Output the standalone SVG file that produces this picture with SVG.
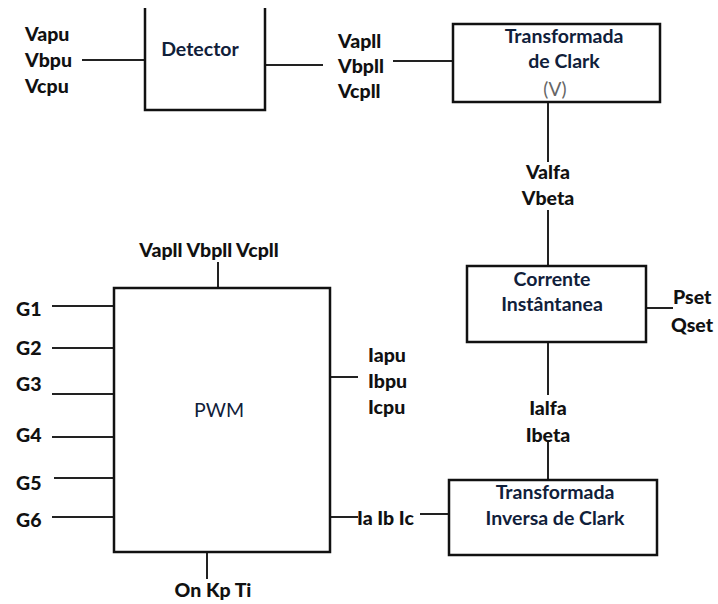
<svg xmlns="http://www.w3.org/2000/svg" width="718" height="604" viewBox="0 0 718 604">
<style>
.box{fill:#fff;stroke:#111;stroke-width:2.5}
.ln{stroke:#222;stroke-width:2;fill:none}
.lb{font-family:Lato,"Liberation Sans",sans-serif;font-weight:900;font-size:19.5px;fill:#111}
.bt{font-family:Lato,"Liberation Sans",sans-serif;font-size:19.5px;fill:#10203a;text-anchor:middle}
.v{font-family:Lato,"Liberation Sans",sans-serif;font-size:19px;fill:#666;text-anchor:middle}
</style>
<rect width="718" height="604" fill="#fff"/>
<g id="connectors">
<line class="ln" x1="82" y1="60" x2="145" y2="60"/>
<line class="ln" x1="265" y1="65" x2="323" y2="65"/>
<line class="ln" x1="393" y1="61" x2="453" y2="61"/>
<line class="ln" x1="548" y1="102" x2="548" y2="162"/>
<line class="ln" x1="548" y1="210" x2="548" y2="266"/>
<line class="ln" x1="646" y1="308" x2="673" y2="308"/>
<line class="ln" x1="548" y1="342" x2="548" y2="395"/>
<line class="ln" x1="548" y1="440" x2="548" y2="480"/>
<line class="ln" x1="420" y1="514" x2="449" y2="514"/>
<line class="ln" x1="330" y1="517" x2="358" y2="517"/>
<line class="ln" x1="330" y1="377" x2="358" y2="377"/>
<line class="ln" x1="218" y1="262" x2="218" y2="288"/>
<line class="ln" x1="207" y1="552" x2="207" y2="579"/>
<line class="ln" x1="52" y1="306" x2="114" y2="306"/>
<line class="ln" x1="52" y1="348" x2="114" y2="348"/>
<line class="ln" x1="52" y1="394" x2="114" y2="394"/>
<line class="ln" x1="52" y1="437" x2="114" y2="437"/>
<line class="ln" x1="54" y1="478" x2="114" y2="478"/>
<line class="ln" x1="52" y1="517" x2="114" y2="517"/>
</g>
<g id="detector">
<path class="box" d="M145,8 V110 H265 V8"/>
<text class="bt" x="200" y="56" font-weight="bold">Detector</text>
</g>
<g id="clark">
<rect class="box" x="453" y="24" width="207" height="78"/>
<text class="bt" x="564" y="43" font-weight="bold">Transformada</text>
<text class="bt" x="564" y="68" font-weight="bold">de Clark</text>
<text class="v" x="555" y="96">(V)</text>
</g>
<g id="corrente">
<rect class="box" x="467" y="266" width="179" height="76"/>
<text class="bt" x="552" y="286" font-weight="bold">Corrente</text>
<text class="bt" x="552" y="311" font-weight="bold">Instântanea</text>
</g>
<g id="inversa">
<rect class="box" x="449" y="480" width="208" height="75"/>
<text class="bt" x="555" y="499" font-weight="bold">Transformada</text>
<text class="bt" x="555" y="525" font-weight="bold">Inversa de Clark</text>
</g>
<g id="pwm">
<rect class="box" x="114" y="288" width="216" height="264"/>
<text class="bt" x="219" y="417">PWM</text>
</g>
<g id="labels">
<text class="lb" x="25" y="41">Vapu</text>
<text class="lb" x="25" y="67">Vbpu</text>
<text class="lb" x="25" y="93">Vcpu</text>
<text class="lb" x="338" y="48">Vapll</text>
<text class="lb" x="338" y="73">Vbpll</text>
<text class="lb" x="338" y="98">Vcpll</text>
<text class="lb" x="548" y="179" text-anchor="middle">Valfa</text>
<text class="lb" x="548" y="205" text-anchor="middle">Vbeta</text>
<text class="lb" x="673" y="304">Pset</text>
<text class="lb" x="671" y="332">Qset</text>
<text class="lb" x="548" y="415" text-anchor="middle">Ialfa</text>
<text class="lb" x="548" y="442" text-anchor="middle">Ibeta</text>
<text class="lb" x="368" y="362">Iapu</text>
<text class="lb" x="368" y="388">Ibpu</text>
<text class="lb" x="368" y="414">Icpu</text>
<text class="lb" x="357" y="525">Ia Ib Ic</text>
<text class="lb" x="209" y="257" text-anchor="middle">Vapll Vbpll Vcpll</text>
<text class="lb" x="213" y="597" text-anchor="middle">On Kp Ti</text>
<text class="lb" x="16" y="316">G1</text>
<text class="lb" x="16" y="355">G2</text>
<text class="lb" x="16" y="391">G3</text>
<text class="lb" x="16" y="442">G4</text>
<text class="lb" x="16" y="490">G5</text>
<text class="lb" x="16" y="527">G6</text>
</g>
</svg>
